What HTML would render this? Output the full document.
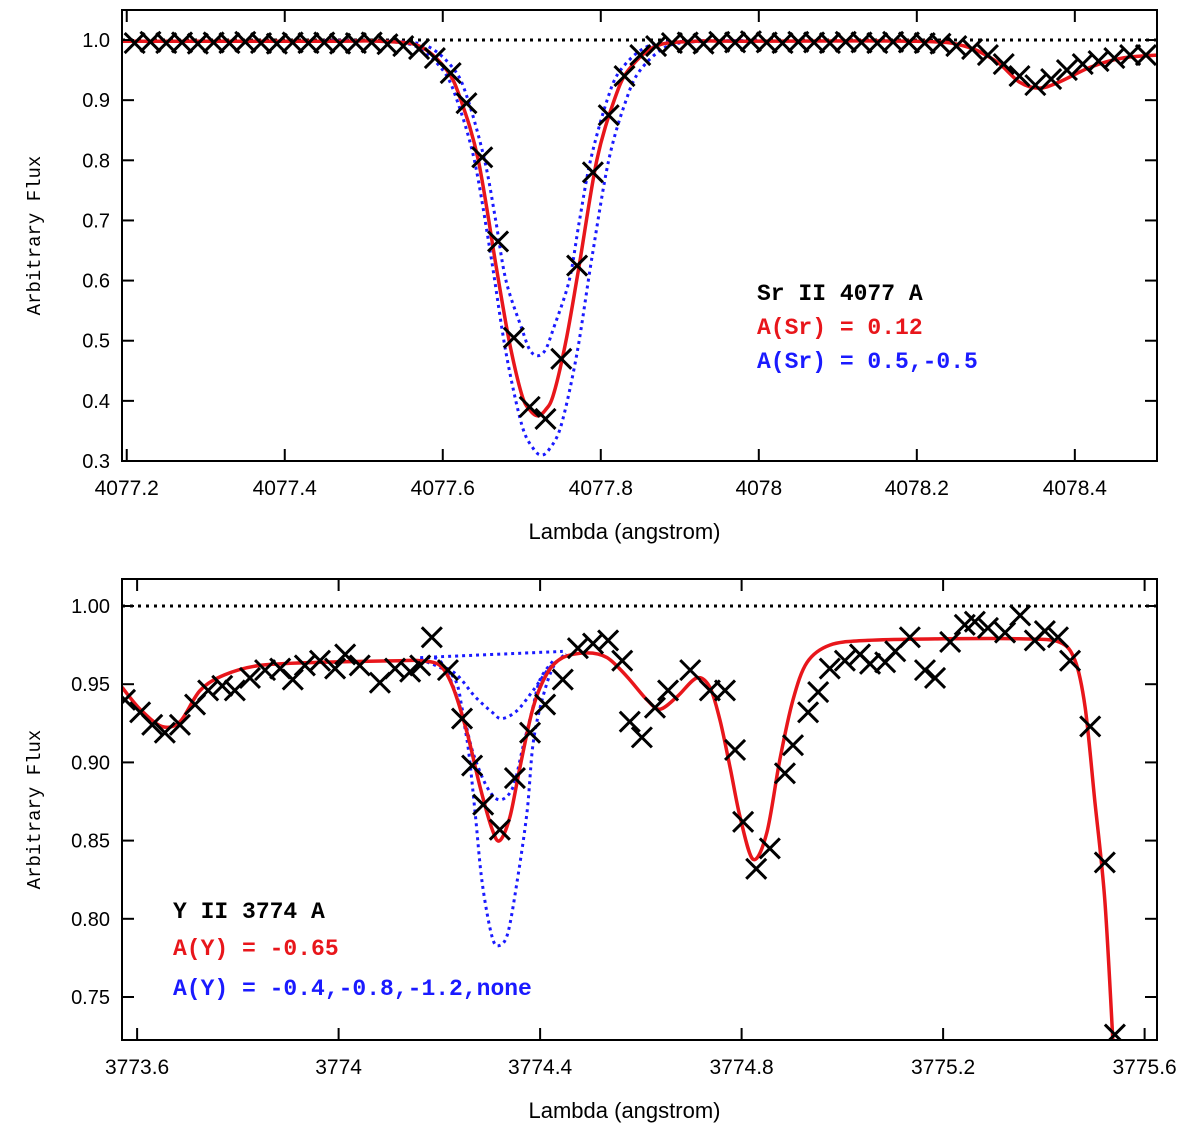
<!DOCTYPE html>
<html><head><meta charset="utf-8"><style>
body{margin:0;background:#fff}
svg text{font-family:"Liberation Sans",sans-serif}
.lg{font-family:"Liberation Mono",monospace;font-weight:bold}
</style></head><body>
<svg id="c" width="1200" height="1137" xmlns="http://www.w3.org/2000/svg"></svg>
<script>
// ---- Top panel data (Sr II 4077) ----
const topObsLam=[4077.21,4077.23,4077.25,4077.27,4077.29,4077.31,4077.33,4077.35,4077.37,4077.39,4077.41,4077.43,4077.45,4077.47,4077.49,4077.51,4077.53,4077.55,4077.57,4077.59,4077.61,4077.63,4077.65,4077.67,4077.69,4077.71,4077.73,4077.75,4077.77,4077.79,4077.81,4077.83,4077.85,4077.87,4077.89,4077.91,4077.93,4077.95,4077.97,4077.99,4078.01,4078.03,4078.05,4078.07,4078.09,4078.11,4078.13,4078.15,4078.17,4078.19,4078.21,4078.23,4078.25,4078.27,4078.29,4078.31,4078.33,4078.35,4078.37,4078.39,4078.41,4078.43,4078.45,4078.47,4078.49];
const topObsFlux=[0.995,0.997,0.995,0.996,0.994,0.996,0.995,0.997,0.995,0.994,0.996,0.995,0.996,0.994,0.995,0.996,0.993,0.99,0.985,0.97,0.945,0.895,0.805,0.665,0.505,0.39,0.37,0.47,0.625,0.78,0.875,0.94,0.975,0.99,0.995,0.996,0.994,0.997,0.996,0.998,0.996,0.995,0.997,0.996,0.995,0.997,0.996,0.995,0.997,0.996,0.995,0.994,0.99,0.985,0.975,0.96,0.94,0.925,0.935,0.95,0.96,0.965,0.97,0.975,0.975];
const topFitLam=[4077.19,4077.45,4077.52,4077.57,4077.605,4077.623,4077.645,4077.668,4077.684,4077.70,4077.71,4077.72,4077.73,4077.74,4077.756,4077.772,4077.795,4077.817,4077.835,4077.87,4077.92,4077.98,4078.2,4078.26,4078.30,4078.33,4078.355,4078.38,4078.42,4078.46,4078.505];
const topFitFlux=[0.998,0.998,0.998,0.99,0.95,0.90,0.80,0.62,0.50,0.41,0.385,0.375,0.385,0.41,0.50,0.62,0.80,0.90,0.95,0.99,0.998,0.998,0.998,0.99,0.965,0.93,0.92,0.93,0.955,0.97,0.975];
const topDeepLam=[4077.45,4077.515,4077.565,4077.60,4077.618,4077.64,4077.661,4077.68,4077.70,4077.715,4077.725,4077.735,4077.75,4077.77,4077.789,4077.81,4077.832,4077.85,4077.885,4077.935,4078.0];
const topDeepFlux=[0.999,0.998,0.99,0.95,0.90,0.80,0.64,0.48,0.36,0.32,0.31,0.32,0.36,0.48,0.64,0.80,0.90,0.95,0.99,0.998,0.999];
const topShalLam=[4077.45,4077.53,4077.58,4077.615,4077.632,4077.653,4077.667,4077.68,4077.70,4077.71,4077.72,4077.73,4077.74,4077.76,4077.773,4077.787,4077.808,4077.825,4077.86,4077.91,4077.98];
const topShalFlux=[0.999,0.998,0.99,0.95,0.90,0.80,0.70,0.60,0.52,0.485,0.475,0.485,0.52,0.60,0.70,0.80,0.90,0.95,0.99,0.998,0.999];
const topXTicks=[4077.2,4077.4,4077.6,4077.8,4078,4078.2,4078.4];
const topXTickLabels=["4077.2","4077.4","4077.6","4077.8","4078","4078.2","4078.4"];
const topYTicks=[0.3,0.4,0.5,0.6,0.7,0.8,0.9,1.0];
const topYTickLabels=["0.3","0.4","0.5","0.6","0.7","0.8","0.9","1.0"];
// ---- Bottom panel data (Y II 3774) ----
const botObsLam=[3773.576,3773.606,3773.630,3773.655,3773.685,3773.715,3773.741,3773.769,3773.794,3773.824,3773.854,3773.884,3773.909,3773.933,3773.963,3773.993,3774.013,3774.042,3774.082,3774.112,3774.142,3774.162,3774.185,3774.217,3774.245,3774.265,3774.287,3774.320,3774.350,3774.380,3774.410,3774.445,3774.475,3774.505,3774.535,3774.563,3774.578,3774.602,3774.628,3774.654,3774.698,3774.737,3774.767,3774.787,3774.803,3774.829,3774.856,3774.886,3774.902,3774.932,3774.952,3774.975,3775.005,3775.035,3775.055,3775.085,3775.105,3775.134,3775.164,3775.184,3775.214,3775.243,3775.263,3775.289,3775.323,3775.353,3775.382,3775.402,3775.428,3775.452,3775.492,3775.521,3775.541];
const botObsFlux=[0.940,0.932,0.924,0.919,0.924,0.937,0.946,0.949,0.946,0.954,0.959,0.960,0.953,0.962,0.965,0.960,0.969,0.962,0.951,0.960,0.958,0.962,0.980,0.959,0.928,0.898,0.873,0.857,0.890,0.919,0.937,0.953,0.973,0.976,0.978,0.965,0.926,0.916,0.935,0.946,0.959,0.946,0.946,0.908,0.862,0.832,0.845,0.893,0.911,0.932,0.945,0.960,0.965,0.969,0.963,0.964,0.971,0.980,0.959,0.954,0.977,0.988,0.990,0.986,0.983,0.994,0.978,0.984,0.980,0.965,0.923,0.836,0.726];
const botFitLam=[3773.570,3773.606,3773.649,3773.685,3773.725,3773.774,3773.844,3773.963,3774.122,3774.162,3774.201,3774.227,3774.255,3774.281,3774.305,3774.320,3774.340,3774.360,3774.386,3774.414,3774.445,3774.493,3774.533,3774.572,3774.612,3774.638,3774.672,3774.711,3774.737,3774.757,3774.777,3774.797,3774.823,3774.850,3774.876,3774.902,3774.930,3774.975,3775.05,3775.20,3775.35,3775.43,3775.462,3775.482,3775.501,3775.521,3775.537];
const botFitFlux=[0.948,0.934,0.923,0.926,0.946,0.956,0.962,0.964,0.965,0.965,0.962,0.948,0.919,0.884,0.857,0.850,0.865,0.897,0.935,0.957,0.967,0.970,0.967,0.955,0.940,0.934,0.942,0.954,0.948,0.927,0.897,0.865,0.838,0.855,0.902,0.940,0.964,0.975,0.978,0.979,0.979,0.977,0.965,0.935,0.876,0.812,0.722];
const botShalLam=[3774.162,3774.227,3774.271,3774.305,3774.324,3774.354,3774.386,3774.420,3774.453];
const botShalFlux=[0.966,0.958,0.942,0.932,0.928,0.933,0.946,0.961,0.969];
const botMidLam=[3774.162,3774.227,3774.247,3774.267,3774.295,3774.320,3774.346,3774.366,3774.384,3774.400,3774.426];
const botMidFlux=[0.966,0.955,0.932,0.906,0.884,0.876,0.884,0.910,0.933,0.953,0.965];
const botDeepLam=[3774.162,3774.201,3774.235,3774.255,3774.271,3774.285,3774.305,3774.320,3774.336,3774.354,3774.374,3774.386,3774.404,3774.426,3774.453];
const botDeepFlux=[0.966,0.965,0.942,0.914,0.868,0.823,0.788,0.783,0.791,0.823,0.868,0.912,0.940,0.961,0.970];
const botNoneLam=[3774.162,3774.445];
const botNoneFlux=[0.967,0.971];
const botXTicks=[3773.6,3774,3774.4,3774.8,3775.2,3775.6];
const botXTickLabels=["3773.6","3774","3774.4","3774.8","3775.2","3775.6"];
const botYTicks=[0.75,0.80,0.85,0.90,0.95,1.00];
const botYTickLabels=["0.75","0.80","0.85","0.90","0.95","1.00"];

const svg=document.getElementById('c');
const NS='http://www.w3.org/2000/svg';
function mk(tag,attrs,parent){const e=document.createElementNS(NS,tag);for(const k in attrs)e.setAttribute(k,attrs[k]);(parent||svg).appendChild(e);return e;}

function smooth(pts){
  let d='M'+pts[0][0].toFixed(1)+','+pts[0][1].toFixed(1);
  for(let i=0;i<pts.length-1;i++){
    const p0=pts[Math.max(i-1,0)],p1=pts[i],p2=pts[i+1],p3=pts[Math.min(i+2,pts.length-1)];
    const t=0.16;
    const c1=[p1[0]+(p2[0]-p0[0])*t,p1[1]+(p2[1]-p0[1])*t];
    const c2=[p2[0]-(p3[0]-p1[0])*t,p2[1]-(p3[1]-p1[1])*t];
    d+='C'+c1[0].toFixed(1)+','+c1[1].toFixed(1)+' '+c2[0].toFixed(1)+','+c2[1].toFixed(1)+' '+p2[0].toFixed(1)+','+p2[1].toFixed(1);
  }
  return d;
}

function panel(P){
  const g=mk('g',{});
  
  
  const sx=v=>P.x0+(v-P.lx0)/(P.lx1-P.lx0)*(P.x1-P.x0);
  const sy=v=>P.y1-(v-P.fy0)/(P.fy1-P.fy0)*(P.y1-P.y0);
  const ref=mk('line',{x1:P.x0,x2:P.x1,y1:sy(1),y2:sy(1),stroke:'#000','stroke-width':3,'stroke-dasharray':'3,5'},g);
  
  
  const path=(lam,fl)=>smooth(lam.map((l,i)=>[sx(l),sy(fl[i])]));
  const clip='clip'+P.name;
  const cp=mk('clipPath',{id:clip},g);mk('rect',{x:P.x0,y:P.y0,width:P.x1-P.x0,height:P.y1-P.y0},cp);
  P.blue.forEach(([lam,fl],i)=>{
    const b=mk('path',{d:path(lam,fl),fill:'none',stroke:'#1a1aff','stroke-width':3,'stroke-dasharray':'3,4','clip-path':`url(#${clip})`},g);
    
    
  });
  const r=mk('path',{d:path(P.fitLam,P.fitFlux),fill:'none',stroke:'#e8161b','stroke-width':3.5,'clip-path':`url(#${clip})`},g);
  
  
  P.obsLam.forEach((l,i)=>{
    const x=sx(l),y=sy(P.obsFlux[i]),s=10;
    const m=mk('path',{d:`M${x-s},${y-s}L${x+s},${y+s}M${x-s},${y+s}L${x+s},${y-s}`,stroke:'#000','stroke-width':3,fill:'none','clip-path':`url(#${clip})`},g);
    
    
  });
  const fr=mk('rect',{x:P.x0,y:P.y0,width:P.x1-P.x0,height:P.y1-P.y0,fill:'none',stroke:'#000','stroke-width':2},g);
  
  
  P.xt.forEach((v,i)=>{
    const x=sx(v);
    mk('line',{x1:x,x2:x,y1:P.y1,y2:P.y1-12,stroke:'#000','stroke-width':2},g);
    mk('line',{x1:x,x2:x,y1:P.y0,y2:P.y0+12,stroke:'#000','stroke-width':2},g);
    const t=mk('text',{x:x,y:P.y1+34,'text-anchor':'middle','font-size':21},g);t.textContent=P.xl[i];
    
    
  });
  P.yt.forEach((v,i)=>{
    const y=sy(v);
    mk('line',{x1:P.x0,x2:P.x0+12,y1:y,y2:y,stroke:'#000','stroke-width':2},g);
    mk('line',{x1:P.x1,x2:P.x1-12,y1:y,y2:y,stroke:'#000','stroke-width':2},g);
    const t=mk('text',{x:P.x0-12,y:y+7,'text-anchor':'end','font-size':20},g);t.textContent=P.yl[i];
    
    
  });
  const xt=mk('text',{x:(P.x0+P.x1)/2-15,y:P.y1+78,'text-anchor':'middle','font-size':22},g);xt.textContent='Lambda (angstrom)';
  
  
  const yy=(P.y0+P.y1)/2;
  const yt=mk('text',{x:40,y:yy,'text-anchor':'middle','font-size':19,class:'lg',transform:`rotate(-90 40 ${yy})`},g);yt.textContent='Arbitrary Flux';
  yt.style.fontWeight='normal';
  
  
  P.leg.forEach(([txt,col,y],i)=>{
    const t=mk('text',{x:P.legX,y:y,fill:col,'font-size':23,class:'lg'},g);t.textContent=txt;
    
    
  });
}
panel({name:'sr-panel',x0:122,x1:1157,y0:10,y1:461,lx0:4077.194,lx1:4078.504,fy0:0.3,fy1:1.0+30/601,
  obsLam:topObsLam,obsFlux:topObsFlux,fitLam:topFitLam,fitFlux:topFitFlux,
  blue:[[topDeepLam,topDeepFlux],[topShalLam,topShalFlux]],
  xt:topXTicks,xl:topXTickLabels,yt:topYTicks,yl:topYTickLabels,legX:757,
  leg:[['Sr II 4077 A','#000',300],['A(Sr) = 0.12','#e8161b',334],['A(Sr) = 0.5,-0.5','#1a1aff',368]]});
panel({name:'y-panel',x0:122,x1:1157,y0:579,y1:1040,lx0:3773.57,lx1:3773.57+1035/503.75,fy0:1-434/1564,fy1:1+27/1564,
  obsLam:botObsLam,obsFlux:botObsFlux,fitLam:botFitLam,fitFlux:botFitFlux,
  blue:[[botNoneLam,botNoneFlux],[botShalLam,botShalFlux],[botMidLam,botMidFlux],[botDeepLam,botDeepFlux]],
  xt:botXTicks,xl:botXTickLabels,yt:botYTicks,yl:botYTickLabels,legX:173,
  leg:[['Y II 3774 A','#000',918],['A(Y) = -0.65','#e8161b',955],['A(Y) = -0.4,-0.8,-1.2,none','#1a1aff',995]]});
</script>
</body></html>
